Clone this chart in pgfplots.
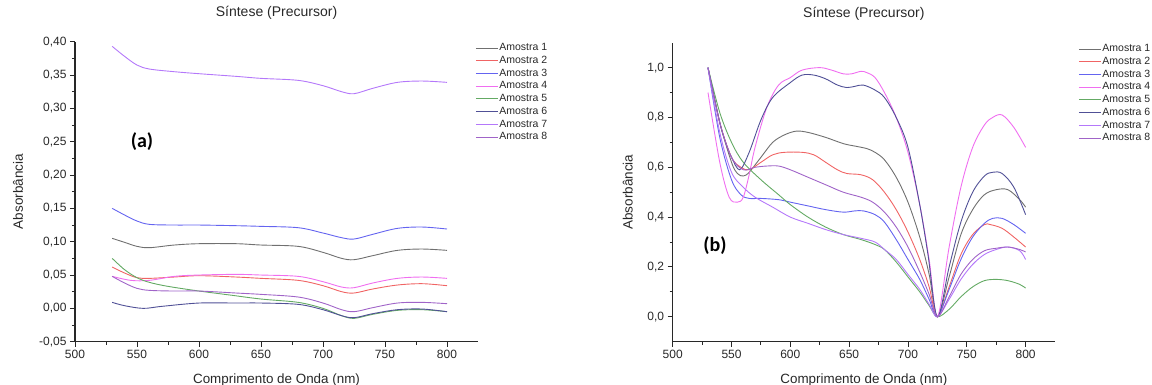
\documentclass[border=0pt]{standalone}
\usepackage{pgfplots}
\pgfplotsset{compat=1.18}
\usepackage{fontspec}
\setmainfont{Liberation Sans}
\newfontfamily\calib{Carlito}
\definecolor{c1}{RGB}{112,112,112}
\definecolor{c2}{RGB}{240,100,100}
\definecolor{c3}{RGB}{100,100,240}
\definecolor{c4}{RGB}{240,110,240}
\definecolor{c5}{RGB}{100,170,100}
\definecolor{c6}{RGB}{80,80,150}
\definecolor{c7}{RGB}{180,120,250}
\definecolor{c8}{RGB}{160,100,200}
\definecolor{axc}{RGB}{40,40,40}
\pgfplotsset{
  myaxis/.style={
    scale only axis,
    axis lines=left,
    axis line style={-, axc, line width=1.1pt},
    enlargelimits=false,
    xmin=500, xmax=825,
    xtick={500,550,600,650,700,750,800},
    minor x tick num=1,
    tick align=outside,
    major tick length=5pt,
    minor tick length=3pt,
    tick style={axc, line width=0.9pt},
    /pgf/number format/assume math mode=true,
    /pgf/number format/use comma,
    /pgf/number format/1000 sep={},
    ticklabel style={font=\fontsize{12}{14}\selectfont, text=axc},
    xlabel={Comprimento de Onda (nm)},
    ylabel={Absorbância},
    xlabel style={font=\fontsize{13.4}{15}\selectfont, text=axc, at={(axis description cs:0.5,0)}, anchor=base, yshift=-42pt},
    title={Síntese (Precursor)},
    title style={font=\fontsize{14}{16}\selectfont, text=axc, at={(axis description cs:0.5,1)}, anchor=base, yshift=19pt},
    every axis plot/.append style={line width=0.9pt, smooth, tension=0.55, no markers},
    legend cell align=left,
    legend image code/.code={\draw[#1] (0pt,0pt) -- (22pt,0pt);},
    legend style={draw=none, fill=none, anchor=north west, font=\fontsize{10.5}{12}\selectfont, text=axc,
      inner sep=0pt, row sep=0.2pt, nodes={inner sep=1pt, text height=8pt, text depth=2.5pt}},
  }
}
\begin{document}
\begin{tikzpicture}
\useasboundingbox (0pt,0pt) rectangle (1152pt,385pt);
% ---------------- (a)
\begin{axis}[myaxis,
  at={(75pt,43.3pt)}, anchor=south west,
  width=403pt, height=300pt,
  ymin=-0.05, ymax=0.40,
  ytick={-0.05,0,0.05,0.10,0.15,0.20,0.25,0.30,0.35,0.40},
  minor y tick num=1,
  yticklabel style={/pgf/number format/fixed, /pgf/number format/fixed zerofill, /pgf/number format/precision=2},
  ylabel style={font=\fontsize{13.5}{15}\selectfont, text=axc, at={(axis description cs:0,0.5)}, anchor=center, yshift=57pt},
  legend style={at={(rel axis cs:0.993,1.0)}},
]
\addplot[c1] coordinates {(530,0.105)(540,0.099)(550,0.093)(560,0.091)(580,0.095)(600,0.097)(630,0.097)(650,0.095)(680,0.093)(700,0.084)(715,0.075)(725,0.073)(740,0.079)(760,0.087)(780,0.089)(800,0.087)};
\addlegendentry{Amostra 1}
\addplot[c2] coordinates {(530,0.062)(540,0.053)(550,0.046)(560,0.045)(580,0.047)(600,0.049)(630,0.047)(650,0.045)(680,0.042)(700,0.034)(715,0.025)(725,0.023)(740,0.029)(760,0.035)(780,0.037)(800,0.034)};
\addlegendentry{Amostra 2}
\addplot[c3] coordinates {(530,0.150)(540,0.140)(550,0.131)(560,0.126)(580,0.125)(600,0.125)(630,0.124)(650,0.123)(680,0.121)(700,0.113)(715,0.106)(725,0.104)(740,0.111)(760,0.120)(780,0.122)(800,0.119)};
\addlegendentry{Amostra 3}
\addplot[c4] coordinates {(530,0.048)(545,0.042)(560,0.042)(580,0.048)(600,0.050)(630,0.051)(650,0.050)(680,0.048)(700,0.040)(715,0.032)(725,0.031)(740,0.038)(760,0.045)(780,0.047)(800,0.045)};
\addlegendentry{Amostra 4}
\addplot[c5] coordinates {(530,0.075)(540,0.058)(550,0.046)(560,0.039)(575,0.033)(600,0.026)(625,0.020)(650,0.014)(680,0.009)(700,0.000)(715,-0.011)(725,-0.015)(740,-0.009)(760,-0.003)(780,-0.002)(800,-0.005)};
\addlegendentry{Amostra 5}
\addplot[c6] coordinates {(530,0.009)(540,0.004)(555,0.000)(570,0.003)(600,0.008)(630,0.008)(650,0.008)(680,0.006)(700,-0.002)(715,-0.011)(725,-0.014)(740,-0.008)(760,-0.002)(780,-0.001)(800,-0.005)};
\addlegendentry{Amostra 6}
\addplot[c7] coordinates {(530,0.393)(540,0.378)(550,0.365)(560,0.359)(580,0.355)(600,0.352)(630,0.348)(650,0.345)(680,0.342)(700,0.334)(715,0.325)(725,0.322)(740,0.330)(760,0.339)(780,0.341)(800,0.339)};
\addlegendentry{Amostra 7}
\addplot[c8] coordinates {(530,0.048)(540,0.038)(550,0.030)(560,0.027)(580,0.026)(600,0.026)(630,0.023)(650,0.021)(680,0.017)(700,0.008)(715,-0.002)(725,-0.005)(740,0.001)(760,0.008)(780,0.009)(800,0.007)};
\addlegendentry{Amostra 8}
\node[font=\calib\bfseries\fontsize{20}{22}\selectfont, text=black] at (axis cs:554,0.25) {(a)};
\end{axis}
% ---------------- (b)
\begin{axis}[myaxis,
  at={(672.7pt,43.3pt)}, anchor=south west,
  width=382.3pt, height=299pt,
  ymin=-0.1, ymax=1.1,
  ytick={0,0.2,0.4,0.6,0.8,1.0},
  minor y tick num=1,
  yticklabel style={/pgf/number format/fixed, /pgf/number format/fixed zerofill, /pgf/number format/precision=1},
  ylabel style={font=\fontsize{13.5}{15}\selectfont, text=axc, at={(axis description cs:0,0.5)}, anchor=center, yshift=45pt},
  legend style={at={(rel axis cs:1.061,1.0)}},
]
\addplot[c1] coordinates {(530,1.0)(540,0.78)(550,0.62)(555,0.575)(560,0.565)(565,0.58)(575,0.64)(585,0.70)(595,0.73)(605,0.745)(615,0.74)(630,0.72)(645,0.695)(655,0.685)(665,0.675)(672,0.66)(680,0.63)(690,0.56)(700,0.46)(710,0.32)(718,0.17)(725,0.0)(735,0.16)(745,0.33)(755,0.43)(765,0.49)(775,0.51)(785,0.51)(795,0.47)(800,0.44)};
\addlegendentry{Amostra 1}
\addplot[c2] coordinates {(530,1.0)(540,0.78)(550,0.64)(558,0.60)(565,0.59)(575,0.62)(585,0.65)(595,0.66)(610,0.66)(620,0.65)(630,0.62)(640,0.59)(648,0.575)(660,0.57)(670,0.55)(680,0.50)(690,0.43)(700,0.34)(710,0.23)(718,0.12)(725,0.0)(735,0.12)(745,0.25)(755,0.33)(765,0.37)(770,0.37)(780,0.355)(790,0.32)(800,0.28)};
\addlegendentry{Amostra 2}
\addplot[c3] coordinates {(530,1.0)(540,0.72)(550,0.55)(558,0.49)(565,0.475)(575,0.475)(590,0.47)(600,0.46)(615,0.445)(630,0.43)(645,0.42)(655,0.425)(662,0.425)(672,0.41)(680,0.38)(690,0.31)(700,0.23)(710,0.15)(718,0.07)(725,0.0)(735,0.11)(745,0.23)(755,0.32)(765,0.375)(772,0.395)(780,0.395)(790,0.37)(800,0.335)};
\addlegendentry{Amostra 3}
\addplot[c4] coordinates {(530,0.90)(540,0.62)(548,0.48)(555,0.46)(560,0.48)(565,0.57)(570,0.68)(580,0.84)(590,0.93)(600,0.96)(610,0.99)(625,1.0)(635,0.99)(645,0.975)(652,0.975)(660,0.985)(665,0.98)(672,0.96)(680,0.90)(690,0.80)(700,0.66)(710,0.45)(718,0.23)(725,0.0)(735,0.28)(745,0.52)(755,0.68)(765,0.77)(772,0.80)(780,0.81)(790,0.76)(800,0.68)};
\addlegendentry{Amostra 4}
\addplot[c5] coordinates {(530,1.0)(540,0.82)(550,0.70)(560,0.62)(575,0.55)(590,0.49)(600,0.45)(615,0.40)(630,0.36)(645,0.33)(660,0.31)(672,0.29)(680,0.27)(690,0.22)(700,0.16)(710,0.10)(718,0.045)(725,0.0)(735,0.03)(745,0.08)(755,0.12)(765,0.145)(775,0.15)(785,0.145)(795,0.13)(800,0.115)};
\addlegendentry{Amostra 5}
\addplot[c6] coordinates {(530,1.0)(540,0.78)(545,0.70)(550,0.64)(557,0.59)(565,0.66)(575,0.79)(585,0.88)(600,0.94)(610,0.97)(620,0.97)(630,0.955)(640,0.93)(648,0.92)(655,0.925)(662,0.93)(672,0.91)(680,0.88)(690,0.80)(700,0.68)(710,0.45)(717,0.25)(725,0.0)(735,0.20)(745,0.38)(755,0.50)(765,0.565)(772,0.58)(780,0.575)(790,0.52)(800,0.41)};
\addlegendentry{Amostra 6}
\addplot[c7] coordinates {(530,1.0)(540,0.74)(550,0.58)(560,0.52)(570,0.48)(585,0.44)(600,0.40)(615,0.375)(630,0.35)(645,0.33)(660,0.315)(672,0.30)(680,0.27)(690,0.23)(700,0.17)(710,0.11)(718,0.05)(725,0.0)(735,0.07)(745,0.15)(755,0.21)(765,0.25)(775,0.27)(785,0.28)(795,0.265)(800,0.23)};
\addlegendentry{Amostra 7}
\addplot[c8] coordinates {(530,1.0)(540,0.78)(550,0.64)(560,0.59)(570,0.60)(580,0.605)(590,0.605)(600,0.59)(615,0.56)(630,0.53)(645,0.50)(660,0.48)(670,0.46)(680,0.42)(690,0.36)(700,0.28)(710,0.18)(718,0.09)(725,0.0)(735,0.08)(745,0.17)(755,0.23)(765,0.265)(775,0.275)(785,0.28)(795,0.27)(800,0.26)};
\addlegendentry{Amostra 8}
\node[font=\calib\bfseries\fontsize{20}{22}\selectfont, text=black] at (axis cs:536,0.284) {(b)};
\end{axis}
\end{tikzpicture}
\end{document}
